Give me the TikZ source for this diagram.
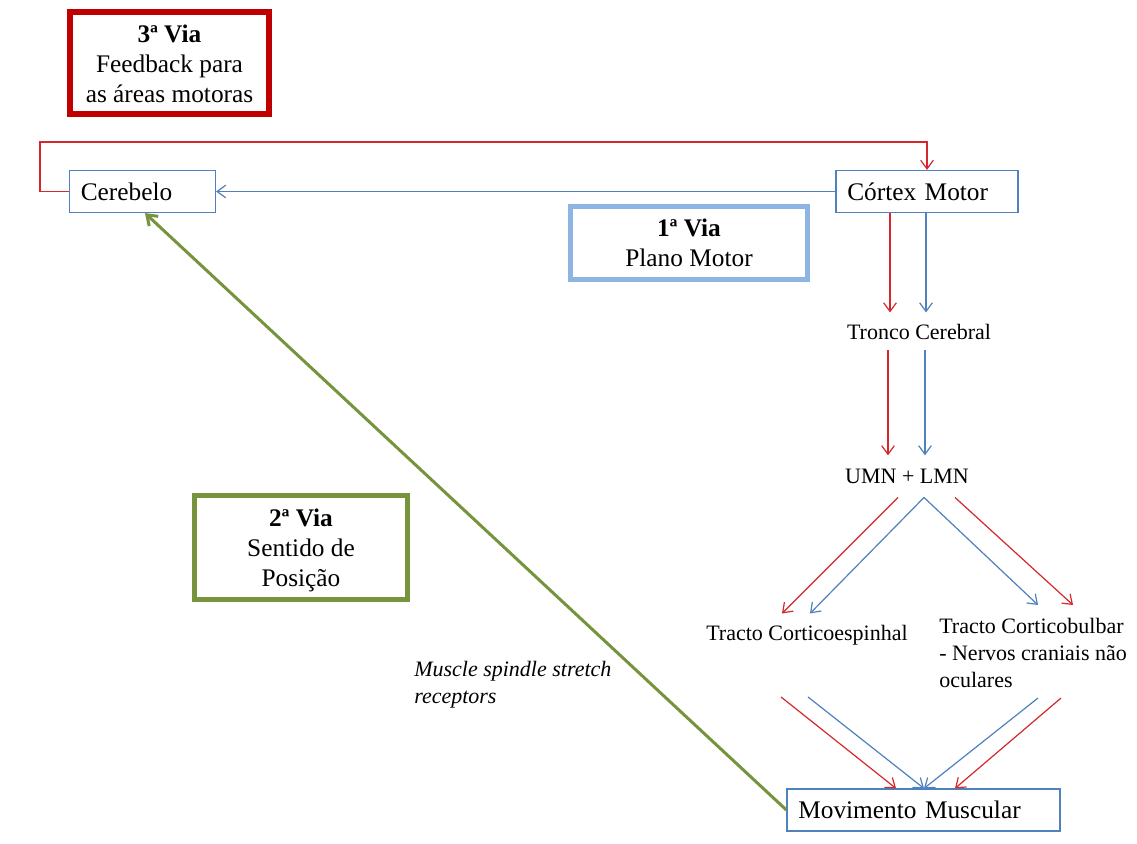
\documentclass[tikz,border=0pt]{standalone}
\usepackage{fontspec}
\setmainfont{Liberation Serif}
\usetikzlibrary{arrows.meta,calc}
\definecolor{lnred}{RGB}{214,40,44}
\definecolor{lnblue}{RGB}{79,129,189}
\definecolor{viared}{RGB}{192,0,0}
\definecolor{viablue}{RGB}{142,180,227}
\definecolor{viagreen}{RGB}{119,147,60}
\begin{document}
\begin{tikzpicture}[x=0.75pt,y=-0.75pt,
  stage/.style={draw=lnblue, line width=0.9pt, minimum height=31.5pt,
    text height=13pt, text depth=0pt, inner xsep=8.5pt, inner ysep=0pt,
    align=left, font=\fontsize{19}{22.5}\selectfont},
  viabox/.style={inner sep=0pt, align=center, font=\fontsize{19}{22.5}\selectfont},
  lab/.style={inner sep=0pt, font=\fontsize{16.5}{20.25}\selectfont},
  rarr/.style={draw=lnred, line width=0.9pt, -{Straight Barb[length=6.5pt,width=9.5pt]}},
  barr/.style={draw=lnblue, line width=0.9pt, -{Straight Barb[length=6.5pt,width=9.5pt]}},
  garr/.style={draw=viagreen, line width=2.25pt, -{Straight Barb[length=7pt,width=10pt]}}]
\fill[white] (0,0) rectangle (1137,843);
\useasboundingbox (0,0) rectangle (1137,843);

% pathway legend boxes
\node[viabox, draw=viared, line width=4.5pt, minimum width=149.25pt, minimum height=76.5pt]
  (via3) at (169.5,63) {\textbf{3ª Via}\rule{0pt}{15pt}\\Feedback para\\as áreas motoras};
\node[viabox, draw=viablue, line width=3.75pt, minimum width=177.75pt, minimum height=54.75pt]
  (via1) at (689,243) {\textbf{1ª Via}\\Plano Motor};
\node[viabox, draw=viagreen, line width=3.75pt, minimum width=159.75pt, minimum height=78pt]
  (via2) at (301,547.5) {\textbf{2ª Via}\rule{0pt}{17pt}\\Sentido de\\Posição};

% framed stages
\node[stage, text width=92.5pt] (cerebelo) at (142.5,191.5) {Cerebelo};
\node[stage, text width=119.5pt] (cortex) at (927,191.5) {Córtex Motor};
\node[stage, text width=187.75pt] (movimento) at (923.5,810) {Movimento Muscular};

% plain stages
\node[lab, anchor=base] (tronco) at (919,339) {Tronco Cerebral};
\node[lab, anchor=base] (umn) at (907,483) {UMN + LMN};
\node[lab, anchor=base] (tce) at (807,640) {Tracto Corticoespinhal};
\node[lab, anchor=north west, align=left] (tcb) at (939,618)
  {Tracto Corticobulbar\\- Nervos craniais não\\oculares};
\node[lab, anchor=north west, align=left, font=\fontsize{16.5}{20.25}\selectfont\itshape]
  (spindle) at (414,661) {Muscle spindle stretch\\receptors};

% feedback loop to the motor cortex
\coordinate (fbcorner) at (40,142);
\draw[rarr] (cerebelo.west) -| (fbcorner) -| (cortex.north);
% motor plan to the cerebellum
\draw[barr] (cortex.west) -- (cerebelo.east);

% descending pathways
\draw[rarr] ($(cortex.south)+(-37,0)$) -- ($(cortex.south |- tronco.north)+(-37,-11)$);
\draw[barr] ($(cortex.south)+(-1,0)$) -- ($(cortex.south |- tronco.north)+(-1,-11)$);
\draw[rarr] ($(tronco.south)+(-31,11)$) -- ($(tronco.south |- umn.north)+(-31,-13)$);
\draw[barr] ($(tronco.south)+(6,11)$) -- ($(tronco.south |- umn.north)+(6,-13)$);

\draw[rarr] ($(umn.south)+(-9,14)$) -- ($(tce.north)+(-25,-11)$);
\draw[barr] ($(umn.south)+(17,14)$) -- ($(tce.north)+(3,-11)$);
\draw[barr] ($(umn.south)+(17,14)$) -- ($(tcb.north west)+(99,-13)$);
\draw[rarr] ($(umn.south)+(48,14)$) -- ($(tcb.north west)+(134,-13)$);

\draw[rarr] ($(tce.south)+(-26,52)$) -- ($(movimento.north)+(-27.5,0)$);
\draw[barr] ($(tce.south)+(1,52)$) -- ($(movimento.north)+(0.5,0)$);
\draw[barr] ($(tcb.south west)+(99,10)$) -- ($(movimento.north)+(0.5,0)$);
\draw[rarr] ($(tcb.south west)+(122,10)$) -- ($(movimento.north)+(31.5,0)$);

% position sense back to the cerebellum
\draw[garr] (movimento.west) -- ($(cerebelo.south)+(2.5,0)$);
\end{tikzpicture}
\end{document}
